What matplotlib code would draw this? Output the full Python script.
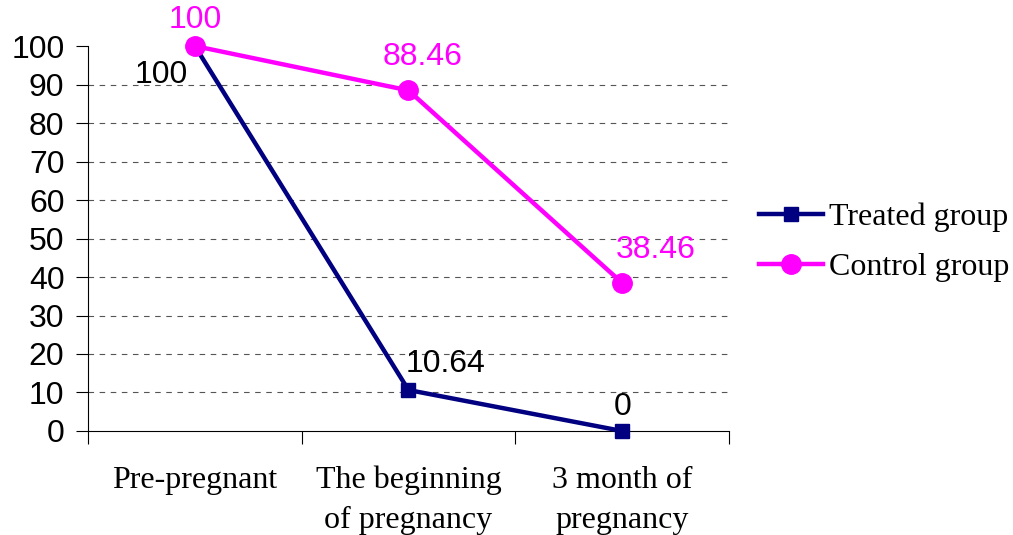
import matplotlib
matplotlib.use('Agg')
import matplotlib.pyplot as plt
from matplotlib.ticker import FixedLocator

# data
categories = ['Pre-pregnant', 'The beginning\nof pregnancy', '3 month of\npregnancy']
treated = [100, 10.64, 0]
control = [100, 88.46, 38.46]
treated_labels = ['100', '10.64', '0']
control_labels = ['100', '88.46', '38.46']
y_ticks = [0, 10, 20, 30, 40, 50, 60, 70, 80, 90, 100]

plt.rcParams['font.family'] = ['Liberation Sans', 'DejaVu Sans']

fig = plt.figure(figsize=(10.13, 5.35), dpi=100)
ax = fig.add_axes([0.0869, 0.1944, 0.6327, 0.7196])

x = [1, 2, 3]
ax.plot(x, treated, color='#000080', linewidth=3.2, marker='s', markersize=10,
        label='Treated group', zorder=3, clip_on=False)
ax.plot(x, control, color='#FF00FF', linewidth=3.2, marker='o', markersize=14,
        label='Control group', zorder=4, clip_on=False)

# data labels (offsets in points)
treated_off = [(-24, -21), (27, 19), (0, 17)]
control_off = [(0, 19), (10, 24), (24, 24)]
for xi, yi, lab, off in zip(x, treated, treated_labels, treated_off):
    ax.annotate(lab, (xi, yi), xytext=off, textcoords='offset points',
                ha='center', va='center', fontsize=23, color='black', zorder=5)
for xi, yi, lab, off in zip(x, control, control_labels, control_off):
    ax.annotate(lab, (xi, yi), xytext=off, textcoords='offset points',
                ha='center', va='center', fontsize=23, color='#FF00FF', zorder=5)

ax.set_xlim(0.5, 3.5)
ax.set_ylim(0, 100)
ax.set_yticks(y_ticks)
ax.set_xticks(x)
ax.set_xticklabels(categories, fontfamily='Liberation Serif', fontsize=23,
                   linespacing=1.5)
ax.xaxis.set_minor_locator(FixedLocator([0.5, 1.5, 2.5, 3.5]))
ax.tick_params(axis='x', which='major', length=0, pad=25)
ax.tick_params(axis='x', which='minor', length=9, width=0.8, direction='out')
ax.tick_params(axis='y', length=9, width=0.8, direction='out', labelsize=23, pad=8)

ax.grid(axis='y', linestyle=(0, (5, 5)), color='#555555', linewidth=0.8)
gl = ax.get_ygridlines()
gl[0].set_visible(False)
gl[-1].set_visible(False)

for s in ['top', 'right']:
    ax.spines[s].set_visible(False)
for s in ['left', 'bottom']:
    ax.spines[s].set_linewidth(0.8)

leg = ax.legend(loc='center left', bbox_to_anchor=(1.047, 0.49), frameon=False,
                prop={'family': 'Liberation Serif', 'size': 23},
                handlelength=2.0, handletextpad=0.2, labelspacing=0.65,
                borderpad=0, borderaxespad=0)

fig.savefig('out.png', dpi=100)
